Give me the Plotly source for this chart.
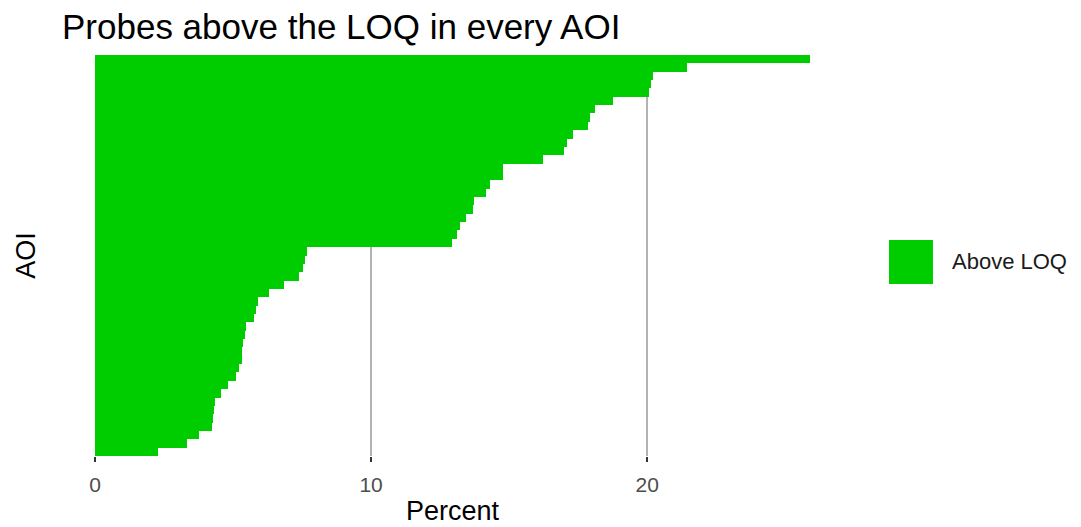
import plotly.graph_objects as go

# 48 AOIs, sorted ascending (bottom -> top), percent of probes above LOQ
aoi_labels = [f"AOI {i + 1}" for i in range(48)]
percent_above = [
    2.29, 3.32, 3.75, 4.23, 4.29, 4.31, 4.35, 4.55, 4.83, 5.11,
    5.22, 5.31, 5.33, 5.35, 5.43, 5.47, 5.76, 5.82, 5.89, 6.29,
    6.86, 7.40, 7.55, 7.61, 7.67, 12.92, 13.10, 13.22, 13.44, 13.70,
    13.72, 14.17, 14.31, 14.77, 14.79, 16.24, 16.98, 17.10, 17.33, 17.87,
    17.93, 18.12, 18.78, 20.08, 20.15, 20.20, 21.46, 25.90,
]
x_ticks = [0, 10, 20]

GREEN = '#00CD00'
FONT = 'Liberation Sans, Arial, sans-serif'

fig = go.Figure()

fig.add_trace(go.Bar(
    x=percent_above, y=aoi_labels, orientation='h',
    marker=dict(color=GREEN, line=dict(width=0)),
    name='Above LOQ', showlegend=False,
))

# ggplot-style legend key, drawn by hand so the key is large
fig.add_shape(type='rect', xref='paper', yref='paper',
              x0=1.1105, x1=1.172, y0=0.4289, y1=0.5387,
              fillcolor=GREEN, line=dict(width=0))
fig.add_annotation(xref='paper', yref='paper', x=1.1958, y=0.4838,
                   text='Above LOQ', showarrow=False,
                   xanchor='left', yanchor='middle',
                   font=dict(size=22, color='#1a1a1a', family=FONT))

# page body has an 8px margin, so the figure is 8px smaller than the window
fig.update_layout(
    width=1073, height=519,
    paper_bgcolor='white', plot_bgcolor='white',
    margin=dict(l=87, r=271, t=47, b=71, autoexpand=False),
    bargap=0,
    font=dict(family=FONT, color='#1a1a1a'),
    title=dict(text='Probes above the LOQ in every AOI',
               x=54 / 1073, xref='container', xanchor='left',
               y=1 - 19 / 519, yref='container', yanchor='middle',
               font=dict(size=35, color='#000000', family=FONT)),
)

fig.update_xaxes(
    range=[0, 25.9], tickvals=x_ticks, ticktext=[str(t) for t in x_ticks],
    showgrid=True, gridcolor='#b3b3b3', gridwidth=2,
    zeroline=False, showline=False, automargin=False,
    ticks='outside', ticklen=5, tickwidth=2, tickcolor='#333333',
    tickfont=dict(size=21, color='#4d4d4d'), ticklabelstandoff=5,
    title=dict(text='Percent', font=dict(size=27, color='#000000'), standoff=5),
)
fig.update_yaxes(
    categoryorder='array', categoryarray=aoi_labels,
    range=[-0.5, 47.5], showticklabels=False, showgrid=False,
    zeroline=False, showline=False, ticks='', automargin=False,
    title=dict(text='AOI', font=dict(size=27, color='#000000'), standoff=50),
)

fig.write_html("out.html")
